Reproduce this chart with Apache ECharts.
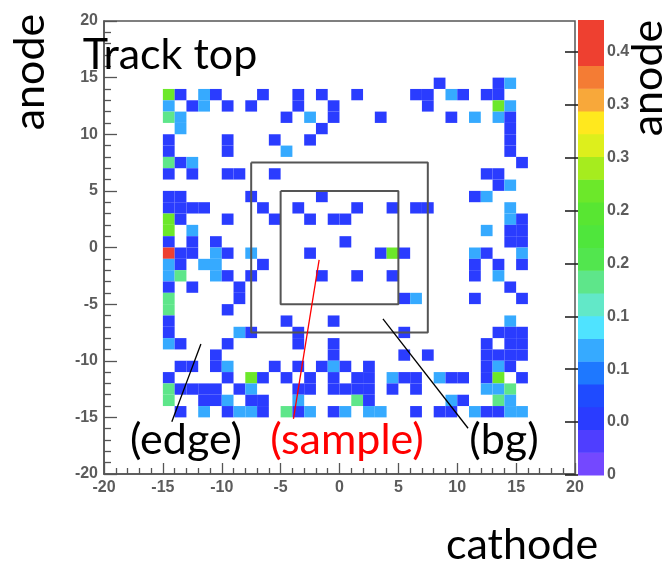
<!DOCTYPE html>
<html><head><meta charset="utf-8">
<script src="https://cdn.jsdelivr.net/npm/echarts@6/dist/echarts.min.js"></script>
<style>html,body{margin:0;padding:0;background:#fff}#c{width:666px;height:565px}</style>
</head><body><div id="c"></div>
<script>
// ---- cell values (bin lower-left corner x, value), one array per row y ----
const B = 0.055, L = 0.12, G = 0.18, V = 0.27, R = 0.42;
const row14 = [[8,B],[13,B],[14,L]];
const row13 = [[-15,V],[-14,B],[-12,L],[-11,B],[-7,B],[-4,B],[-2,B],[1,B],[6,B],[7,B],[9,L],[10,B],[12,B],[13,B]];
const row12 = [[-15,L],[-13,B],[-12,L],[-10,B],[-8,B],[-4,B],[-1,B],[7,B],[13,V],[14,L]];
const row11 = [[-15,G],[-14,L],[-5,B],[-3,L],[-1,B],[3,B],[9,B],[11,L],[13,L],[14,B]];
const row10 = [[-14,L],[-2,B],[14,B]];
const row9  = [[-15,B],[-10,B],[-6,B],[-3,B],[14,B]];
const row8  = [[-15,B],[-10,B],[-5,L],[14,B]];
const row7  = [[-15,G],[-14,B],[-13,L],[15,B]];
const row6  = [[-15,B],[-13,B],[-10,B],[-9,B],[-6,B],[12,B],[13,B]];
const row5  = [[13,B],[14,L]];
const row4  = [[-15,B],[-14,B],[-8,B],[-2,B],[11,B],[12,L]];
const row3  = [[-15,B],[-14,B],[-13,B],[-12,B],[-7,B],[-4,B],[1,B],[4,B],[6,B],[7,B],[14,L]];
const row2  = [[-15,V],[-14,B],[-10,B],[-6,B],[-3,B],[-1,B],[0,B],[14,L],[15,B]];
const row1  = [[-15,V],[-13,L],[12,L],[14,B],[15,B]];
const row0  = [[-15,B],[-13,B],[-11,B],[0,B],[14,B],[15,B]];
const rowM1 = [[-15,R],[-14,B],[-13,B],[-11,L],[-10,B],[-8,L],[-3,B],[3,B],[4,V],[5,B],[11,L],[12,B],[15,L]];
const rowM2 = [[-15,L],[-14,B],[-12,L],[-11,L],[-7,B],[11,B],[13,B],[15,B]];
const rowM3 = [[-15,L],[-14,G],[-11,L],[-10,B],[-8,B],[-2,B],[1,B],[4,B],[11,B],[13,L]];
const rowM4 = [[-15,B],[-13,B],[-9,B],[14,B]];
const rowM5 = [[-15,G],[-9,B],[5,B],[6,L],[11,B],[15,B]];
const rowM6 = [[-15,G],[-10,B]];
const rowM7 = [[-15,B],[-5,B],[-1,B],[14,L]];
const rowM8 = [[-15,B],[-9,L],[-8,B],[-4,B],[5,B],[13,B],[14,B],[15,B]];
const rowM9 = [[-15,L],[-14,B],[-10,B],[-4,B],[-1,B],[12,B],[14,B],[15,B]];
const rowM10 = [[-11,B],[-1,B],[5,B],[7,B],[12,B],[13,B],[14,B],[15,B]];
const rowM11 = [[-14,B],[-13,B],[-11,B],[-10,L],[-6,B],[-4,B],[-2,B],[-1,L],[0,B],[2,B],[12,B],[13,L],[14,B]];
const rowM12 = [[-15,B],[-10,B],[-8,V],[-7,B],[-5,B],[-3,B],[-1,B],[1,B],[2,B],[4,L],[5,B],[6,B],[8,L],[9,B],[10,B],[12,B],[13,V],[15,B]];
const rowM13 = [[-15,G],[-14,B],[-13,B],[-12,B],[-11,B],[-9,B],[-8,L],[-4,B],[-3,B],[-1,B],[0,B],[1,B],[2,B],[4,B],[6,B],[12,L],[13,L],[14,G]];
const rowM14 = [[-15,G],[-12,B],[-11,B],[-10,L],[-8,B],[-7,B],[-4,L],[1,G],[2,B],[9,L],[10,B],[13,G],[14,L]];
const rowM15 = [[-14,B],[-12,L],[-10,B],[-9,L],[-8,L],[-7,B],[-5,G],[-4,B],[-3,L],[-1,B],[0,L],[2,L],[3,L],[6,B],[8,B],[9,B],[11,L],[12,B],[13,B],[14,L],[15,L]];
const rows = [[14,row14],[13,row13],[12,row12],[11,row11],[10,row10],[9,row9],[8,row8],[7,row7],[6,row6],[5,row5],[4,row4],[3,row3],[2,row2],[1,row1],[0,row0],
  [-1,rowM1],[-2,rowM2],[-3,rowM3],[-4,rowM4],[-5,rowM5],[-6,rowM6],[-7,rowM7],[-8,rowM8],[-9,rowM9],[-10,rowM10],[-11,rowM11],[-12,rowM12],[-13,rowM13],[-14,rowM14],[-15,rowM15]];

// region boxes (half sizes) and annotation pointer lines, in data units
const outerBoxHalf = 7.5;
const innerBoxHalf = 5;
const edgePointer = [[-14.24,-15.38],[-11.77,-8.52]];
const samplePointer = [[-3.91,-15.14],[-1.73,-1.10]];
const bgPointer = [[3.69,-6.31],[10.92,-15.96]];

// axis / color scale
const axisMin = -20, axisMax = 20, axisStep = 5;
const zMax = 0.43, zBands = 20;
const zTickValues = [0,0.05,0.1,0.15,0.2,0.25,0.3,0.35,0.4];
const zTickLabels = ['0','0.0','0.1','0.1','0.2','0.2','0.3','0.3','0.4'];
const bandColors = ['#7448FF','#4F3EFF','#2A3CFF','#1F4BFF','#1E78FF','#36AAFF','#4FE3FF','#62E8C8','#5EE68A','#52E64E',
  '#4FE63C','#58E632','#6CE82A','#A6EC1E','#DDEF1C','#FFE81E','#F8A83A','#F47C34','#EE4030','#EE4030'];

const cells = [];
rows.forEach(([y, arr]) => arr.forEach(([x, v]) => cells.push([x, y, v])));
const bw = zMax / zBands;
const bands = bandColors.map((c, k) => [k * bw, (k + 1) * bw, k]);
const pieces = bands.map(([lo, hi, k]) => ({gte: lo, lt: hi, color: bandColors[k]}));

function box(h) { return [[-h,h],[h,h],[h,-h],[-h,-h],[-h,h]]; }

const chart = echarts.init(document.getElementById('c'), null, {renderer: 'canvas'});
const lblFont = {color: '#5c5c5c', fontSize: 16, fontWeight: 'bold', fontFamily: 'Liberation Sans, Arial, sans-serif'};
const axisCommon = (major, minor) => ({
  type: 'value', min: axisMin, max: axisMax, interval: axisStep,
  axisLine: {show: true, onZero: false, lineStyle: {color: '#555', width: 1.5}},
  axisTick: {show: true, inside: true, length: major, lineStyle: {color: '#555', width: 1.3}},
  minorTick: {show: true, splitNumber: 5, length: minor, lineStyle: {color: '#555', width: 1.3}},
  splitLine: {show: false}
});
const bigText = (t, x, y, color, rot) => ({
  type: 'text', x: x, y: y, rotation: rot || 0, z: 100,
  style: {text: t, fill: color || '#000', font: '43px Lato, "Open Sans", sans-serif', align: 'center', verticalAlign: 'middle'}
});

chart.setOption({
  animation: false,
  grid: [
    {left: 104, top: 21, width: 471, height: 453, show: true, borderColor: '#555', borderWidth: 1.5, backgroundColor: '#fff'},
    {left: 578, top: 20, width: 26, height: 455, show: false}
  ],
  xAxis: [
    Object.assign(axisCommon(11, 6), {gridIndex: 0, position: 'bottom', axisLabel: Object.assign({margin: 6}, lblFont)}),
    {type: 'value', gridIndex: 1, min: 0, max: 1, show: false}
  ],
  yAxis: [
    Object.assign(axisCommon(13, 7), {gridIndex: 0, position: 'left', axisLabel: Object.assign({margin: 6}, lblFont)}),
    {type: 'value', gridIndex: 1, min: 0, max: zMax, position: 'right',
     axisLine: {show: false},
     axisTick: {show: true, inside: true, length: 13, customValues: zTickValues, lineStyle: {color: '#222', width: 1.6}},
     axisLabel: Object.assign({margin: 3, customValues: zTickValues,
       formatter: v => { const i = zTickValues.findIndex(t => Math.abs(t - v) < 1e-9); return i >= 0 ? zTickLabels[i] : ''; }}, lblFont),
     splitLine: {show: false}}
  ],
  visualMap: {type: 'piecewise', show: false, seriesIndex: 0, dimension: 2, pieces: pieces},
  series: [
    {
      type: 'custom', xAxisIndex: 0, yAxisIndex: 0, data: cells, z: 2,
      encode: {x: 0, y: 1},
      renderItem: (params, api) => {
        const x = api.value(0), y = api.value(1);
        const p0 = api.coord([x, y + 1]), p1 = api.coord([x + 1, y]);
        return {type: 'rect', shape: {x: p0[0], y: p0[1], width: p1[0] - p0[0], height: p1[1] - p0[1]},
                style: {fill: api.visual('color')}};
      }
    },
    {
      type: 'custom', xAxisIndex: 1, yAxisIndex: 1, data: bands, z: 2,
      renderItem: (params, api) => {
        const lo = api.value(0), hi = api.value(1), k = api.value(2);
        const p0 = api.coord([0, hi]), p1 = api.coord([1, lo]);
        return {type: 'rect', shape: {x: p0[0], y: p0[1], width: p1[0] - p0[0], height: p1[1] - p0[1] + 0.5},
                style: {fill: bandColors[k]}};
      }
    },
    {type: 'line', xAxisIndex: 0, yAxisIndex: 0, data: box(outerBoxHalf), symbol: 'none', z: 5, silent: true,
     lineStyle: {color: '#555', width: 2}},
    {type: 'line', xAxisIndex: 0, yAxisIndex: 0, data: box(innerBoxHalf), symbol: 'none', z: 5, silent: true,
     lineStyle: {color: '#555', width: 2}},
    {type: 'line', xAxisIndex: 0, yAxisIndex: 0, data: edgePointer, symbol: 'none', z: 6, lineStyle: {color: '#000', width: 1.3}},
    {type: 'line', xAxisIndex: 0, yAxisIndex: 0, data: samplePointer, symbol: 'none', z: 6, lineStyle: {color: '#f00', width: 1.3}},
    {type: 'line', xAxisIndex: 0, yAxisIndex: 0, data: bgPointer, symbol: 'none', z: 6, lineStyle: {color: '#000', width: 1.3}}
  ],
  graphic: [
    bigText('Track top', 170, 55),
    bigText('anode', 30, 72, '#000', Math.PI / 2),
    bigText('anode', 648, 78, '#000', Math.PI / 2),
    bigText('cathode', 522, 545),
    bigText('(edge)', 186, 440),
    bigText('(sample)', 347, 440, '#f00'),
    bigText('(bg)', 504, 440)
  ]
});
</script></body></html>
